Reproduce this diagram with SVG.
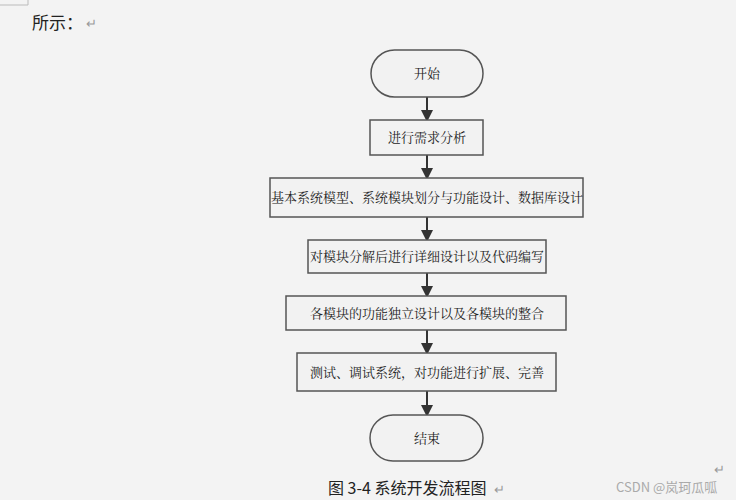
<svg xmlns="http://www.w3.org/2000/svg" width="736" height="500" viewBox="0 0 736 500">
<style>
.n{fill:#f2f2f2;stroke:#555;stroke-width:1.5}
.t{font-family:"Noto Serif CJK SC","Liberation Serif","Noto Sans CJK SC",serif;font-size:13px;fill:#222;text-anchor:middle}
.c{stroke:#333;stroke-width:2;fill:none;marker-end:url(#a)}
.r{font-family:"Liberation Sans",sans-serif;font-size:13px;fill:#999}
</style>
<defs><marker id="a" markerWidth="12" markerHeight="12" refX="10" refY="6" orient="auto" markerUnits="userSpaceOnUse"><path d="M0,0L12,6L0,12z" fill="#333"/></marker></defs>
<rect width="736" height="500" fill="#f3f3f3"/>
<path d="M0,5H28V0" fill="none" stroke="#bbb"/>
<text x="32" y="29" font-family="Noto Sans CJK SC,sans-serif" font-size="17" fill="#222">所示：</text>
<text x="86" y="28" class="r">↵</text>
<g id="connectors">
<line class="c" x1="427" y1="97" x2="427" y2="120"/>
<line class="c" x1="427" y1="155" x2="427" y2="178"/>
<line class="c" x1="427" y1="217" x2="427" y2="240"/>
<line class="c" x1="427" y1="273" x2="427" y2="296"/>
<line class="c" x1="427" y1="330" x2="427" y2="353"/>
<line class="c" x1="427" y1="391" x2="427" y2="415"/>
</g>
<g id="start"><rect class="n" x="371" y="50" width="112" height="47" rx="23.5"/><text class="t" x="427" y="78">开始</text></g>
<g id="n1"><rect class="n" x="370" y="120" width="113" height="35"/><text class="t" x="427" y="142">进行需求分析</text></g>
<g id="n2"><rect class="n" x="270" y="178" width="313" height="39"/><text class="t" x="427" y="202" font-size="12.5">基本系统模型、系统模块划分与功能设计、数据库设计</text></g>
<g id="n3"><rect class="n" x="308" y="240" width="238" height="33"/><text class="t" x="427" y="261">对模块分解后进行详细设计以及代码编写</text></g>
<g id="n4"><rect class="n" x="286" y="296" width="280" height="34"/><text class="t" x="427" y="318">各模块的功能独立设计以及各模块的整合</text></g>
<g id="n5"><rect class="n" x="297" y="353" width="259" height="38"/><text class="t" x="427" y="377">测试、调试系统，对功能进行扩展、完善</text></g>
<g id="end"><rect class="n" x="370" y="415" width="113" height="46" rx="23"/><text class="t" x="427" y="443">结束</text></g>
<text x="328" y="494" font-family="Noto Sans CJK SC,sans-serif" font-size="16" fill="#222">图 3-4 系统开发流程图</text>
<text x="494" y="494" class="r">↵</text>
<text x="714" y="474" class="r">↵</text>
<text x="616" y="492" font-family="Noto Sans CJK SC,sans-serif" font-size="13" fill="#aaa">CSDN @岚珂瓜呱</text>
</svg>
